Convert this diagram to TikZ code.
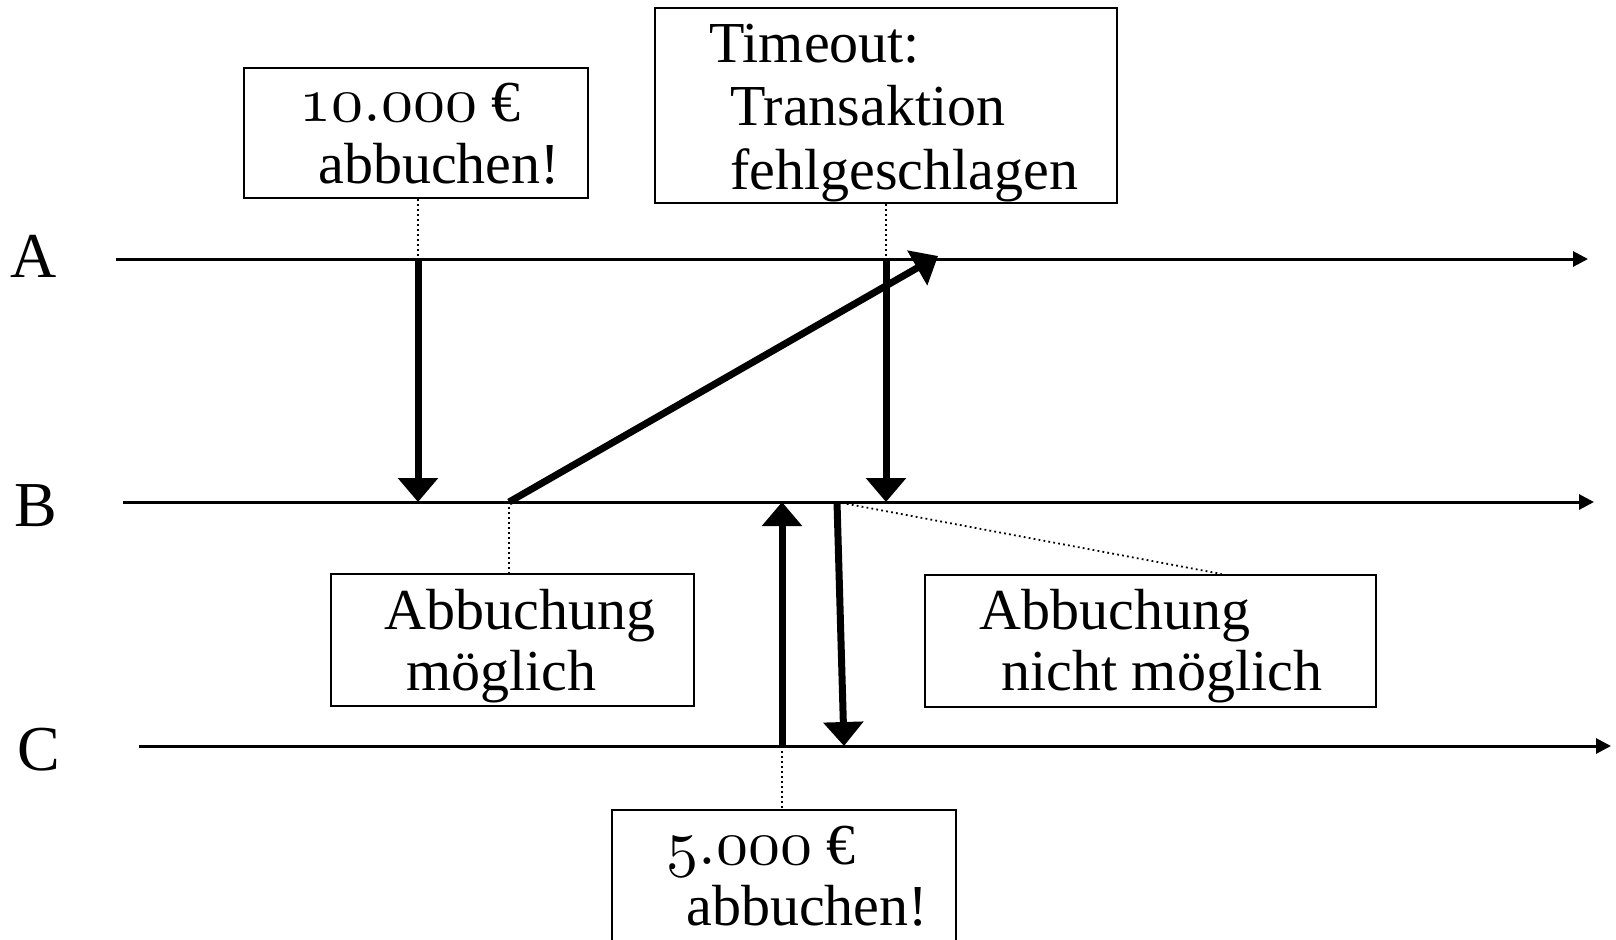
\documentclass[tikz,border=0pt]{standalone}
\usepackage{fontspec}
\setmainfont{Liberation Serif}
\usetikzlibrary{arrows.meta,calc}
% old-style figures taken from the math italic font
\newcommand\osnum[1]{\scalebox{3.2}{\fontsize{10pt}{12pt}\selectfont$\mathnormal{#1}$}}
\tikzset{
  timeline/.style={line width=1.5pt, -{Triangle[width=7.5pt,length=7.5pt]}},
  msg/.style={line width=3.5pt, -{Triangle[width=19.5pt,length=12pt]}},
  box/.style={draw, line width=1pt, inner sep=0pt},
  lead/.style={line width=0.9pt, dash pattern=on 0.9pt off 1.6pt},
  txt/.style={anchor=base west, inner sep=0pt, font=\fontsize{29pt}{35pt}\selectfont},
  lane/.style={anchor=center, inner sep=0pt, font=\fontsize{32pt}{38pt}\selectfont}
}
\begin{document}
\begin{tikzpicture}[x=0.5pt,y=-0.5pt]
\useasboundingbox (0,0) rectangle (1616,939);

% process time lines
\coordinate (A0) at (116,259); \coordinate (A1) at (1588,259);
\coordinate (B0) at (123,502); \coordinate (B1) at (1594,502);
\coordinate (C0) at (139,746); \coordinate (C1) at (1611,746);
\node[lane] (la) at (34,256) {A};
\node[lane] (lb) at (36,506) {B};
\node[lane] (lc) at (39,750) {C};
\draw[timeline] (A0) -- (A1);
\draw[timeline] (B0) -- (B1);
\draw[timeline] (C0) -- (C1);

% message events
\coordinate (m1s) at (418,259); \coordinate (m1e) at (418,502);
\coordinate (m2s) at (509,502); \coordinate (m2e) at (938,256);
\coordinate (m3s) at (886,259); \coordinate (m3e) at (886,502);
\coordinate (m4s) at (782,746); \coordinate (m4e) at (782,502);
\coordinate (m5s) at (837,502); \coordinate (m5e) at (844,746);

% comment boxes
\node[box, minimum width=172pt, minimum height=65pt] (b1) at (416,133) {};
\node[box, minimum width=231pt, minimum height=97.5pt] (b2) at (886,105.5) {};
\node[box, minimum width=181.5pt, minimum height=66pt] (b3) at (512.5,640) {};
\node[box, minimum width=225.5pt, minimum height=66pt] (b4) at (1150.5,641) {};
\node[box, minimum width=172pt, minimum height=80pt] (b5) at (784,890) {};

\node[txt] (t1a) at (299,121) {\osnum{10.000} €};
\node[txt] (t1b) at (318,183) {abbuchen!};
\node[txt] (t2a) at (709,62) {Timeout:};
\node[txt] (t2b) at (730,125) {Transaktion};
\node[txt] (t2c) at (730,189) {fehlgeschlagen};
\node[txt] (t3a) at (384,629) {Abbuchung};
\node[txt] (t3b) at (406,690) {möglich};
\node[txt] (t4a) at (979,629) {Abbuchung};
\node[txt] (t4b) at (1001,690) {nicht möglich};
\node[txt] (t5a) at (666,864) {\osnum{5.000} €};
\node[txt] (t5b) at (686,925) {abbuchen!};

% dotted leaders from the boxes to their events
\draw[lead] (b1.south -| m1s) -- (m1s);
\draw[lead] (b2.south) -- (m3s);
\draw[lead] (m2s) -- (m2s |- b3.north);
\draw[lead] (m5s) -- ($(b4.north west)!0.657!(b4.north east)$);
\draw[lead] (m4s) -- (m4s |- b5.north);

% messages
\draw[msg] (m1s) -- (m1e);
\draw[msg] (m2s) -- (m2e);
\draw[msg] (m3s) -- (m3e);
\draw[msg] (m4s) -- (m4e);
\draw[msg] (m5s) -- (m5e);
\end{tikzpicture}
\end{document}
